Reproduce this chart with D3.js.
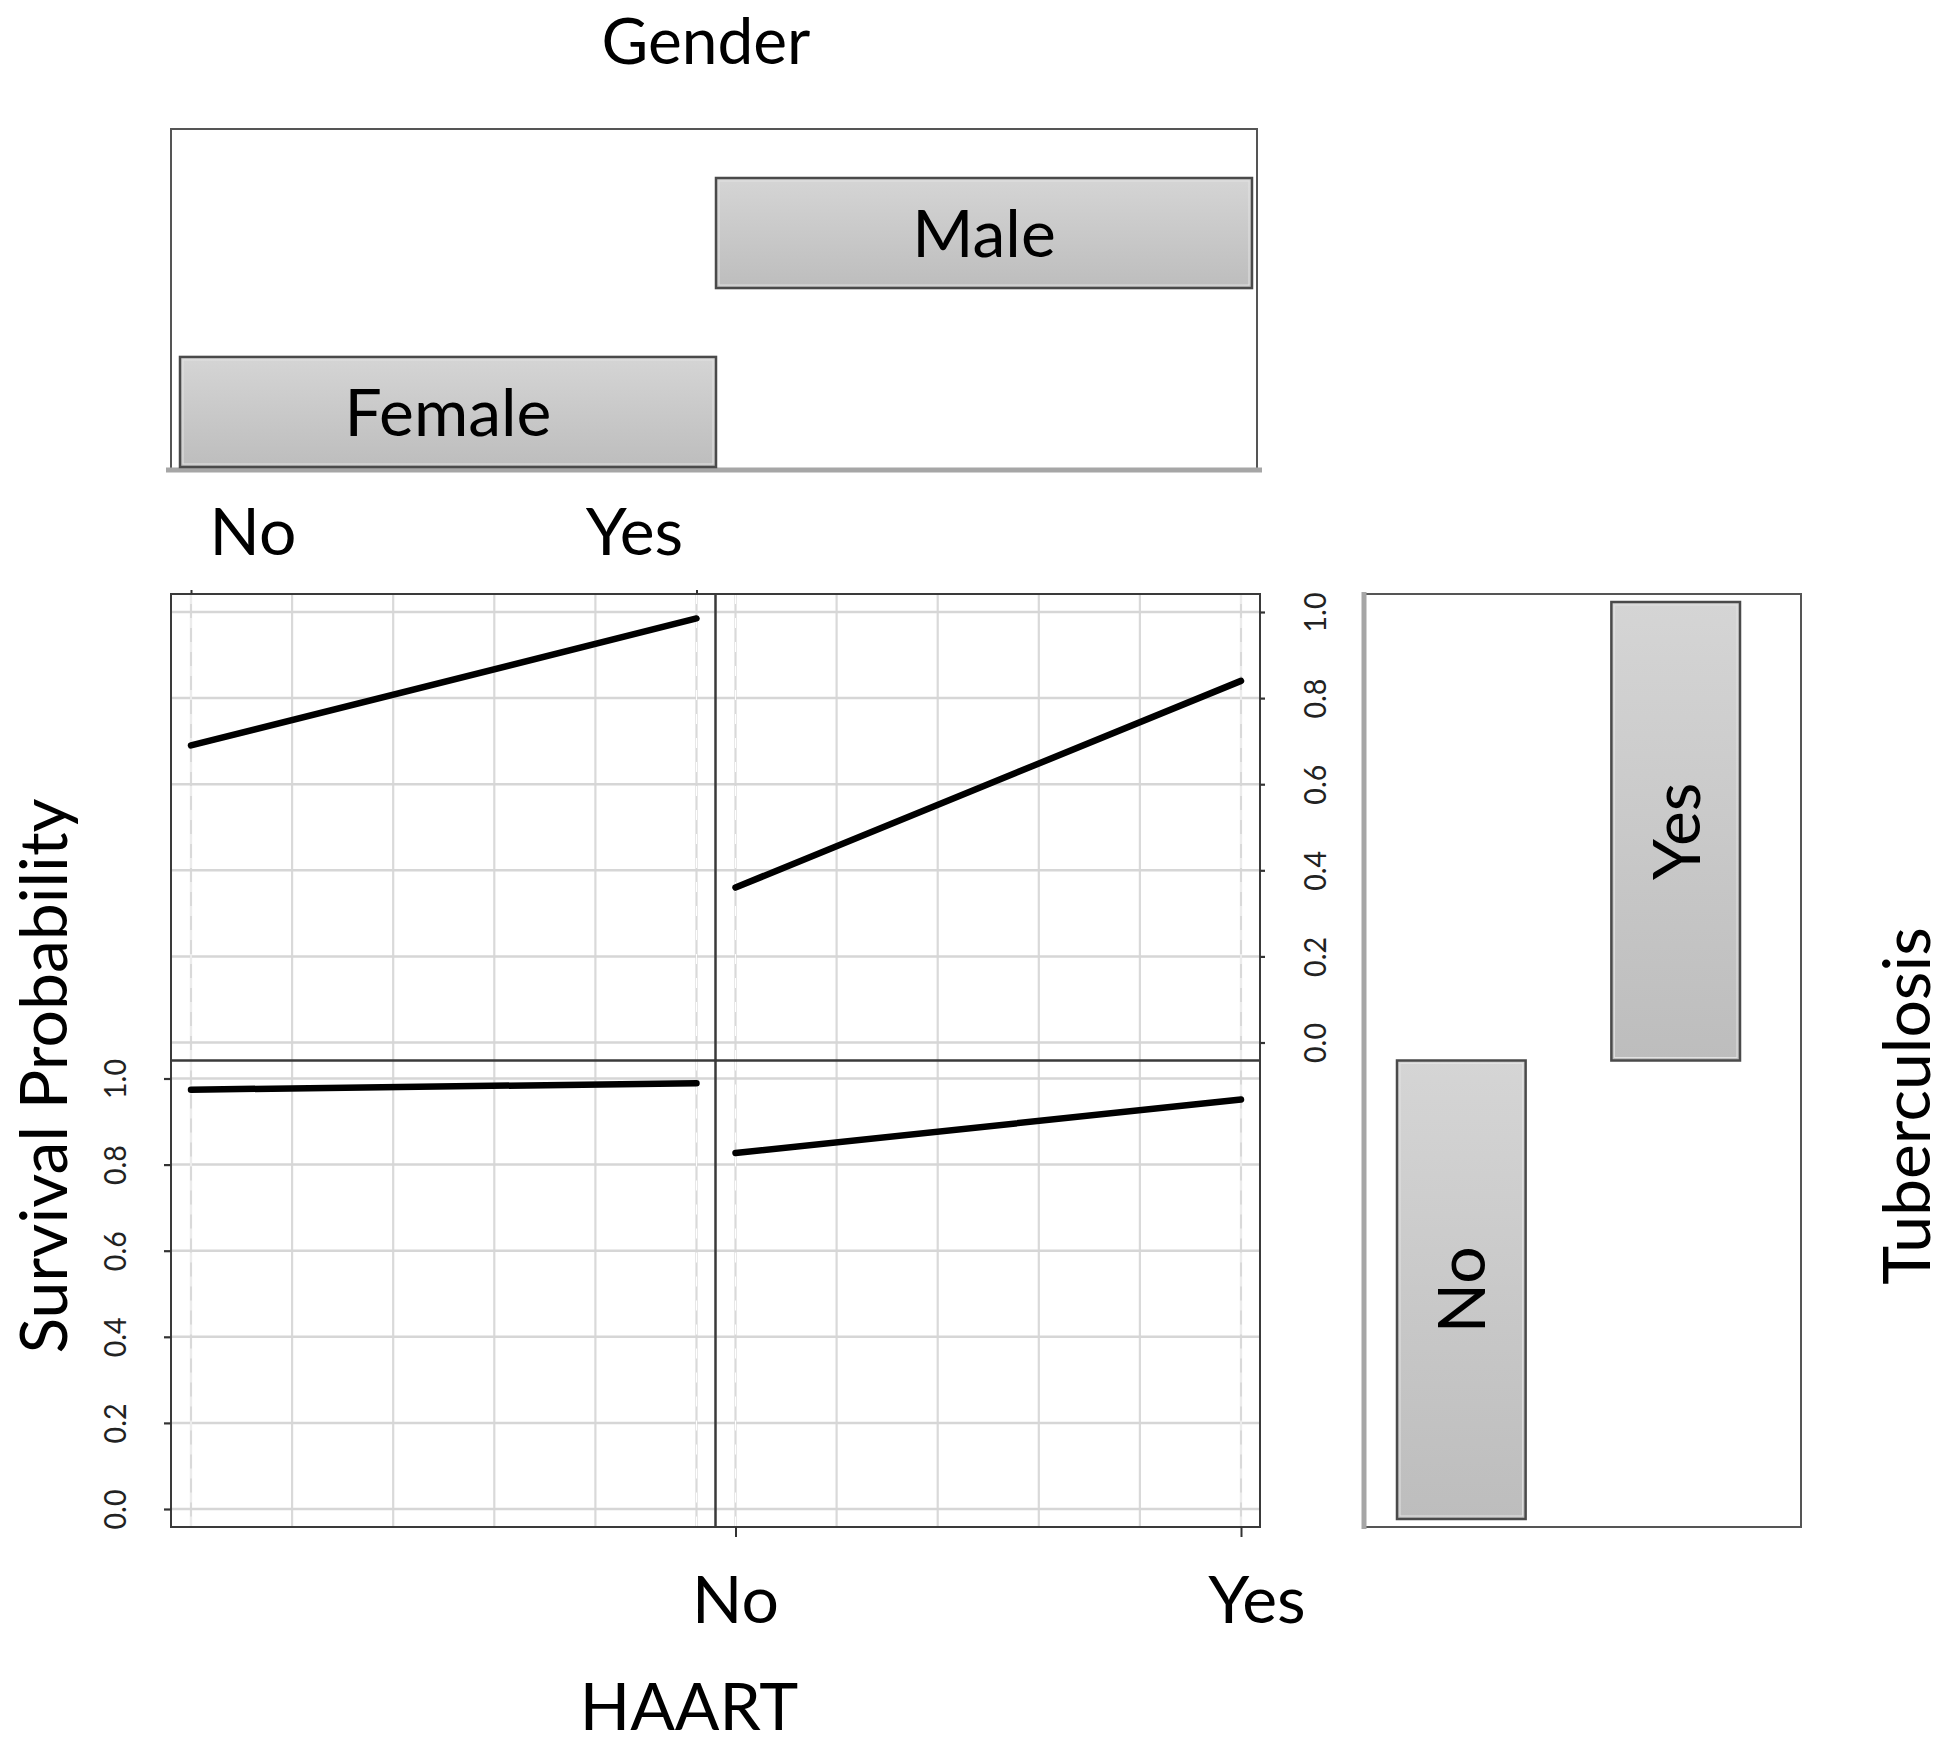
<!DOCTYPE html>
<html>
<head>
<meta charset="utf-8">
<script src="https://cdn.jsdelivr.net/npm/d3@7"></script>
<style>
  body { margin: 0; background: #fff; }
  svg text { font-family: Lato, "Open Sans", sans-serif; }
</style>
</head>
<body>
<div id="chart"></div>
<script>
// levels
const genders = ["Female", "Male"];
const tbRows = ["Yes", "No"];          // top row = Yes, bottom row = No
const haart = ["No", "Yes"];
const yTicks = [0, 0.2, 0.4, 0.6, 0.8, 1.0];
const yTickLabels = ["0.0", "0.2", "0.4", "0.6", "0.8", "1.0"];
const xGrid = [0, 0.2, 0.4, 0.6, 0.8, 1.0];

// survival probability, HAART No -> Yes
const femaleTbYes = [0.69, 0.985];
const maleTbYes = [0.36, 0.84];
const femaleTbNo = [0.974, 0.989];
const maleTbNo = [0.827, 0.951];

const series = [
  {gender: "Female", tb: "Yes", vals: femaleTbYes},
  {gender: "Male", tb: "Yes", vals: maleTbYes},
  {gender: "Female", tb: "No", vals: femaleTbNo},
  {gender: "Male", tb: "No", vals: maleTbNo}
];

const W = 1946, H = 1746;
const svg = d3.select("#chart").append("svg")
  .attr("width", W).attr("height", H);

const defs = svg.append("defs");
const grad = defs.append("linearGradient").attr("id", "barGrad")
  .attr("x1", 0).attr("y1", 0).attr("x2", 0).attr("y2", 1);
grad.append("stop").attr("offset", "0%").attr("stop-color", "#d5d5d5");
grad.append("stop").attr("offset", "100%").attr("stop-color", "#bdbdbd");

// panel layout
const col = d3.scaleBand().domain(genders).range([171, 1260]);
const row = d3.scaleBand().domain(tbRows).range([594, 1527]);

const xOf = g => d3.scaleLinear().domain([0, 1])
  .range([col(g) + 20, col(g) + col.bandwidth() - 19]);
const yOf = t => d3.scaleLinear().domain([0, 1])
  .range([row(t) + row.bandwidth() - 18, row(t) + 18]);

const panels = [];
tbRows.forEach(t => genders.forEach(g => panels.push({g, t})));

const pg = svg.append("g");
panels.forEach(p => {
  const x = xOf(p.g), y = yOf(p.t);
  const gp = pg.append("g");
  const x0 = col(p.g), x1 = x0 + col.bandwidth();
  const y0 = row(p.t), y1 = y0 + row.bandwidth();

  // grid
  gp.selectAll(".vg").data(xGrid).enter().append("line")
    .attr("x1", d => x(d)).attr("x2", d => x(d))
    .attr("y1", y0).attr("y2", y1)
    .attr("stroke", "#d9d9d9").attr("stroke-width", 2.2);
  gp.selectAll(".hg").data(yTicks).enter().append("line")
    .attr("x1", x0).attr("x2", x1)
    .attr("y1", d => y(d)).attr("y2", d => y(d))
    .attr("stroke", "#d6d6d6").attr("stroke-width", 2.5);
  // dashed reference at the two HAART levels
  gp.selectAll(".ref").data([0, 1]).enter().append("line")
    .attr("x1", d => x(d)).attr("x2", d => x(d))
    .attr("y1", y0).attr("y2", y1)
    .attr("stroke", "#fff").attr("stroke-width", 1)
    .attr("stroke-dasharray", "10,14");
});

// frames
const fr = svg.append("g");
panels.forEach(p => {
  fr.append("rect")
    .attr("x", col(p.g)).attr("y", row(p.t))
    .attr("width", col.bandwidth()).attr("height", row.bandwidth())
    .attr("fill", "none").attr("stroke", "#3a3a3a").attr("stroke-width", 2);
});

// lines
const lg = svg.append("g");
series.forEach(s => {
  const x = xOf(s.gender), y = yOf(s.tb);
  lg.append("path")
    .datum(s.vals)
    .attr("d", d3.line().x((d, i) => x(i)).y(d => y(d)))
    .attr("fill", "none").attr("stroke", "#000")
    .attr("stroke-width", 6.5).attr("stroke-linecap", "round");
});

// axes
const tickFont = "'Liberation Sans', Arial, sans-serif";
const styleTicks = (ax, dx) => {
  ax.select(".domain").remove();
  ax.selectAll(".tick line").attr("stroke", "#333").attr("stroke-width", 2.2);
  ax.selectAll(".tick text")
    .attr("font-family", tickFont).attr("font-size", 30).attr("fill", "#222")
    .attr("text-anchor", "middle").attr("dy", null)
    .attr("textLength", 40).attr("lengthAdjust", "spacingAndGlyphs")
    .attr("transform", `translate(${dx},0) rotate(-90)`)
    .attr("x", 0).attr("y", 0).attr("dominant-baseline", "central");
};

// right axis on top-right panel
{
  const y = yOf("Yes"), xr = col("Male") + col.bandwidth();
  const ax = svg.append("g").attr("transform", `translate(${xr},0)`)
    .call(d3.axisRight(y).tickValues(yTicks).tickSize(5).tickFormat((d, i) => yTickLabels[i]));
  styleTicks(ax, 54);
}
// left axis on bottom-left panel
{
  const y = yOf("No"), xl = col("Female");
  const ax = svg.append("g").attr("transform", `translate(${xl},0)`)
    .call(d3.axisLeft(y).tickValues(yTicks).tickSize(7).tickFormat((d, i) => yTickLabels[i]));
  styleTicks(ax, -57);
}
// bottom ticks on bottom-right panel
{
  const x = xOf("Male"), yb = row("No") + row.bandwidth();
  const ax = svg.append("g").attr("transform", `translate(0,${yb})`)
    .call(d3.axisBottom(x).tickValues([0, 1]).tickSize(10).tickFormat(""));
  ax.select(".domain").remove();
  ax.selectAll(".tick line").attr("stroke", "#333").attr("stroke-width", 2);
  svg.selectAll(".botLab").data(haart).enter().append("text")
    .attr("x", (d, i) => x(i) + (i ? 16 : 0)).attr("y", 1623)
    .attr("text-anchor", "middle").attr("font-size", 66).text(d => d);
}
// top ticks on top-left panel
{
  const x = xOf("Female"), yt = row("Yes");
  const ax = svg.append("g").attr("transform", `translate(0,${yt})`)
    .call(d3.axisTop(x).tickValues([0, 1]).tickSize(4).tickFormat(""));
  ax.select(".domain").remove();
  ax.selectAll(".tick line").attr("stroke", "#333").attr("stroke-width", 2);
  svg.selectAll(".topLab").data(haart).enter().append("text")
    .attr("x", (d, i) => x(i) + (i ? -62 : 62)).attr("y", 555)
    .attr("text-anchor", "middle").attr("font-size", 66).text(d => d);
}

// Gender strip
{
  const bx0 = 171, bx1 = 1260, by0 = 129, by1 = 469;
  const gs = svg.append("g");
  gs.append("path")
    .attr("d", `M${bx0},${by1} L${bx0},${by0} L${bx1 - 3},${by0} L${bx1 - 3},${by1}`)
    .attr("fill", "none").attr("stroke", "#555").attr("stroke-width", 2);
  gs.append("line").attr("x1", 166).attr("x2", 1262).attr("y1", by1 + 1).attr("y2", by1 + 1)
    .attr("stroke", "#a6a6a6").attr("stroke-width", 5);
  const bxs = d3.scaleBand().domain(genders).range([180, 1252]);
  const bys = d3.scaleBand().domain(["Male", "Female"]).range([178, 467]).paddingInner(0.385);
  const b = gs.selectAll(".gb").data(genders).enter().append("g");
  b.append("rect")
    .attr("x", d => bxs(d)).attr("y", d => bys(d))
    .attr("width", bxs.bandwidth()).attr("height", bys.bandwidth())
    .attr("fill", "url(#barGrad)").attr("stroke", "#4a4a4a").attr("stroke-width", 2.5);
  b.append("rect")
    .attr("x", d => bxs(d) + 3).attr("y", d => bys(d) + 3)
    .attr("width", bxs.bandwidth() - 6).attr("height", bys.bandwidth() - 6)
    .attr("fill", "none").attr("stroke", "#e2e2e2").attr("stroke-width", 1);
  b.append("text")
    .attr("x", d => bxs(d) + bxs.bandwidth() / 2)
    .attr("y", d => bys(d) + bys.bandwidth() / 2 + 24)
    .attr("text-anchor", "middle").attr("font-size", 66).text(d => d);
}

// Tuberculosis strip
{
  const bx0 = 1364, bx1 = 1801, by0 = 594, by1 = 1527;
  const ts = svg.append("g");
  ts.append("path")
    .attr("d", `M${bx0},${by0} L${bx1},${by0} L${bx1},${by1} L${bx0},${by1}`)
    .attr("fill", "none").attr("stroke", "#555").attr("stroke-width", 2);
  ts.append("line").attr("x1", bx0).attr("x2", bx0).attr("y1", by0 - 2).attr("y2", by1 + 2)
    .attr("stroke", "#a6a6a6").attr("stroke-width", 5);
  const txs = d3.scaleBand().domain(["No", "Yes"]).range([1397, 1740]).paddingInner(0.4);
  const barY = d => d === "Yes" ? row(d) + 8 : row(d);
  const barH = row.bandwidth() - 8;
  const b = ts.selectAll(".tb").data(tbRows).enter().append("g");
  b.append("rect")
    .attr("x", d => txs(d)).attr("y", barY)
    .attr("width", txs.bandwidth()).attr("height", barH)
    .attr("fill", "url(#barGrad)").attr("stroke", "#4a4a4a").attr("stroke-width", 2.5);
  b.append("rect")
    .attr("x", d => txs(d) + 3).attr("y", d => barY(d) + 3)
    .attr("width", txs.bandwidth() - 6).attr("height", barH - 6)
    .attr("fill", "none").attr("stroke", "#e2e2e2").attr("stroke-width", 1);
  b.append("text")
    .attr("transform", d => `translate(${txs(d) + txs.bandwidth() / 2 + 24},${barY(d) + barH / 2}) rotate(-90)`)
    .attr("text-anchor", "middle").attr("font-size", 66).text(d => d);
}

// titles
svg.append("text").attr("x", 706).attr("y", 64).attr("text-anchor", "middle")
  .attr("font-size", 64).text("Gender");
svg.append("text").attr("x", 689).attr("y", 1730).attr("text-anchor", "middle")
  .attr("font-size", 66).text("HAART");
svg.append("text").attr("transform", "translate(67,1076) rotate(-90)")
  .attr("text-anchor", "middle").attr("font-size", 66).text("Survival Probability");
svg.append("text").attr("transform", "translate(1930,1106) rotate(-90)")
  .attr("text-anchor", "middle").attr("font-size", 66).text("Tuberculosis");
</script>
</body>
</html>
